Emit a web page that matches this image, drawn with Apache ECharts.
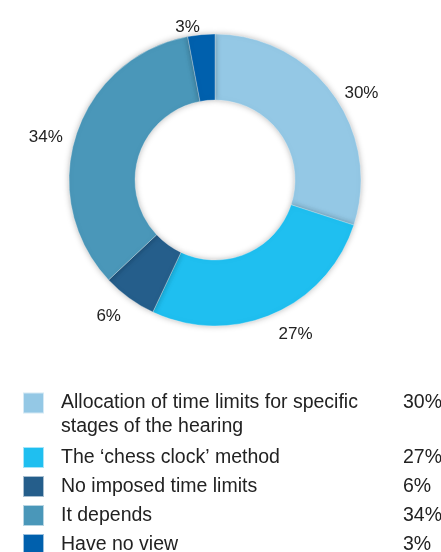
<!DOCTYPE html>
<html>
<head>
<meta charset="utf-8">
<script src="https://cdn.jsdelivr.net/npm/echarts@6/dist/echarts.min.js"></script>
<style>html,body{margin:0;padding:0;background:#fff}#c{width:441px;height:552px}</style>
</head>
<body>
<div id="c"></div>
<script>
const categories = [
  'Allocation of time limits for specific stages of the hearing',
  'The \u2018chess clock\u2019 method',
  'No imposed time limits',
  'It depends',
  'Have no view'
];
const categoryLines = [
  ['Allocation of time limits for specific', 'stages of the hearing'],
  ['The \u2018chess clock\u2019 method'],
  ['No imposed time limits'],
  ['It depends'],
  ['Have no view']
];
const values = [30, 27, 6, 34, 3];
const colors = ['#94c8e5', '#1fbff0', '#255e8b', '#4a97b9', '#0060ad'];

const FONT = '"Liberation Sans", Arial, Helvetica, sans-serif';
const chart = echarts.init(document.getElementById('c'), null, {renderer: 'canvas'});

function legendFormatter(name) {
  const i = categories.indexOf(name);
  const lines = categoryLines[i];
  let s = '{n|' + lines[0] + '}{p|' + values[i] + '%}';
  for (let k = 1; k < lines.length; k++) s += '\n{n|' + lines[k] + '}{p| }';
  if (lines.length > 1) s = '{n| }{p| }\n' + s;
  return s;
}
const LFS = 19.5, LLH = 24;
const legendText = {
  fontFamily: FONT, fontSize: LFS, color: '#222', lineHeight: LLH,
  rich: {
    n: {fontFamily: FONT, fontSize: LFS, color: '#222', lineHeight: LLH, width: 342, padding: [0, 0, 0, 12]},
    p: {fontFamily: FONT, fontSize: LFS, color: '#222', lineHeight: LLH}
  }
};

// Legend rows: first entry spans two lines, others one line each
const legendTops = categories.map((c, i) => i === 0 ? 367 : 445.5 + (i - 1) * 29);

chart.setOption({
  animation: false,
  color: colors,
  legend: categories.map((c, i) => ({
    data: [c], left: 22, top: legendTops[i], padding: 0,
    itemWidth: 21, itemHeight: 21, icon: 'rect', selectedMode: false,
    formatter: legendFormatter, textStyle: legendText
  })),
  series: [{
    type: 'pie',
    center: [215, 180],
    radius: [80, 146],
    startAngle: 90,
    clockwise: true,
    avoidLabelOverlap: false,
    silent: true,
    itemStyle: {
      borderColor: 'rgba(255,255,255,0.6)', borderWidth: 0.5,
      shadowBlur: 6, shadowColor: 'rgba(0,0,0,0.28)'
    },
    label: {
      show: true, position: 'outside', formatter: '{c}%',
      fontFamily: FONT, fontSize: 17, color: '#222', distanceToLabelLine: 0,
      offset: [0, 7]
    },
    labelLine: {show: false, length: 14, length2: 0},
    data: categories.map((c, i) => ({name: c, value: values[i]}))
  }]
});
</script>
</body>
</html>
